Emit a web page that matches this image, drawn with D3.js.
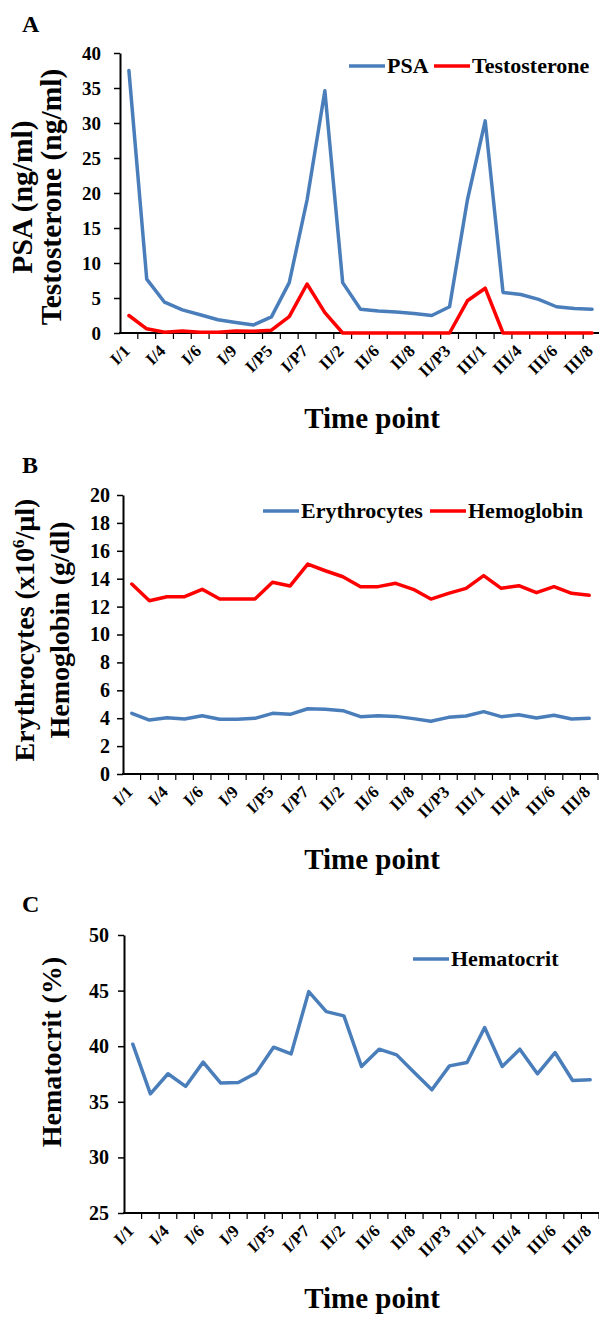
<!DOCTYPE html>
<html><head><meta charset="utf-8">
<script src="https://cdn.jsdelivr.net/npm/d3@7"></script>
<style>
body{margin:0;background:#fff}
svg{display:block}
text{font-family:"Liberation Serif","Times New Roman",serif;font-weight:bold;fill:#000}
</style>
</head><body>
<svg id="chart" width="599" height="1318"></svg>
<script>
// ---- data ----
const categories = ["I/1","I/2","I/4","I/5","I/6","I/7","I/9","I/P1","I/P5","I/P6","I/P7","II/1","II/2","II/4","II/6","II/7","II/8","II/P1","II/P3","II/P5","III/1","III/2","III/4","III/5","III/6","III/7","III/8"];
const shownLabels = ["I/1","I/4","I/6","I/9","I/P5","I/P7","II/2","II/6","II/8","II/P3","III/1","III/4","III/6","III/8"];

const psa          = [37.5,7.7,4.4,3.3,2.6,1.9,1.5,1.15,2.3,7.2,19.0,34.6,7.2,3.4,3.15,3.0,2.8,2.5,3.75,19.0,30.3,5.8,5.5,4.8,3.75,3.5,3.4];
const testosterone = [2.5,0.6,0.1,0.3,0.1,0.1,0.3,0.25,0.4,2.35,7.0,2.9,0,0,0,0,0,0,0,4.6,6.4,0,0,0,0,0,0];

const erythrocytes = [4.35,3.87,4.04,3.94,4.18,3.92,3.92,3.99,4.35,4.28,4.68,4.64,4.54,4.11,4.18,4.13,3.97,3.78,4.06,4.16,4.47,4.11,4.25,4.01,4.21,3.94,3.99];
const hemoglobin   = [13.62,12.42,12.71,12.71,13.24,12.54,12.54,12.54,13.74,13.48,15.05,14.57,14.14,13.43,13.43,13.67,13.24,12.54,12.95,13.31,14.22,13.31,13.5,13.0,13.43,12.95,12.81];

const hematocrit   = [40.18,35.72,37.52,36.38,38.57,36.68,36.74,37.58,39.91,39.31,44.91,43.11,42.73,38.17,39.73,39.22,37.63,36.08,38.23,38.53,41.68,38.17,39.73,37.52,39.43,36.92,36.98];

const ticksA = [0,5,10,15,20,25,30,35,40];
const ticksB = [0,2,4,6,8,10,12,14,16,18,20];
const ticksC = [25,30,35,40,45,50];

const BLUE = "#4a7ebb", RED = "#ff0000";

const svg = d3.select("#chart");

function panel(cfg){
  const g = svg.append("g");
  const x = d3.scaleBand().domain(categories).range(cfg.xRange).padding(0);
  const bw = x.bandwidth();
  const y = d3.scaleLinear().domain(cfg.yDomain).range(cfg.yRange);
  const y0 = cfg.yRange[0];

  // y axis
  const ya = g.append("g").attr("transform",`translate(${cfg.xRange[0]},0)`)
    .call(d3.axisLeft(y).tickValues(cfg.ticks).tickSize(6).tickSizeOuter(0).tickPadding(cfg.tickPad));
  ya.select(".domain").attr("stroke","#000").attr("stroke-width",2);
  ya.selectAll(".tick line").attr("stroke","#000").attr("stroke-width",1.5);
  ya.selectAll(".tick text").style("font-family",'"Liberation Serif","Times New Roman",serif')
    .style("font-weight","bold").style("font-size",cfg.tickFont+"px").attr("fill","#000");

  // x axis
  g.append("line").attr("x1",cfg.xRange[0]-1).attr("x2",cfg.xRange[1]).attr("y1",y0).attr("y2",y0)
    .attr("stroke","#000").attr("stroke-width",2);
  g.selectAll(".xt").data(categories).join("line")
    .attr("x1",d=>x(d)+bw).attr("x2",d=>x(d)+bw).attr("y1",y0).attr("y2",y0+6)
    .attr("stroke","#000").attr("stroke-width",1.2);
  g.selectAll(".xl").data(categories.filter(c=>shownLabels.includes(c))).join("text")
    .attr("transform",d=>`translate(${x(d)+bw/2+2},${y0+19}) rotate(-45)`)
    .attr("text-anchor","end").style("font-size","17px").text(d=>d);

  // series
  const line = d3.line().x((d,i)=>x(categories[i])+bw/2).y(d=>y(d));
  cfg.series.forEach(s=>{
    g.append("path").attr("d",line(s.values)).attr("fill","none").attr("stroke",s.color)
      .attr("stroke-width",3.5).attr("stroke-linejoin","round").attr("stroke-linecap","round");
  });

  // legend
  cfg.series.forEach(s=>{
    g.append("line").attr("x1",s.lx).attr("x2",s.lx+36).attr("y1",cfg.legY).attr("y2",cfg.legY)
      .attr("stroke",s.color).attr("stroke-width",3.5);
    g.append("text").attr("x",s.lx+38).attr("y",cfg.legY+7).style("font-size","22px").text(s.name);
  });

  // y title
  cfg.yTitle.forEach((t,i)=>{
    const tx = g.append("text").attr("transform",`translate(${t.x},${cfg.yTitleCenter}) rotate(-90)`)
      .attr("text-anchor","middle").style("font-size",cfg.titleFont+"px");
    if (t.sup){
      tx.append("tspan").text(t.pre);
      tx.append("tspan").attr("dy",-10).style("font-size","17px").text(t.sup);
      tx.append("tspan").attr("dy",10).text(t.post);
    } else tx.text(t.text);
  });

  // x title
  g.append("text").attr("x",372).attr("y",y0+95).attr("text-anchor","middle").style("font-size","29px").text("Time point");
  // panel letter
  g.append("text").attr("x",22).attr("y",y0-301).style("font-size","24px").text(cfg.letter);
}

panel({
  letter:"A", xRange:[120,601], yRange:[333,53], yDomain:[0,40], ticks:ticksA, tickPad:13, tickFont:19,
  series:[{name:"PSA",values:psa,color:BLUE,lx:349},{name:"Testosterone",values:testosterone,color:RED,lx:434}],
  legY:66, yTitleCenter:197, titleFont:29.5,
  yTitle:[{x:32,text:"PSA (ng/ml)"},{x:61,text:"Testosterone (ng/ml)"}]
});
panel({
  letter:"B", xRange:[123,598], yRange:[774,495], yDomain:[0,20], ticks:ticksB, tickPad:7, tickFont:20,
  series:[{name:"Erythrocytes",values:erythrocytes,color:BLUE,lx:263},{name:"Hemoglobin",values:hemoglobin,color:RED,lx:430}],
  legY:511, yTitleCenter:630, titleFont:28,
  yTitle:[{x:34,sup:true,pre:"Erythrocytes (x10",sup:"6",post:"/µl)"},{x:69,text:"Hemoglobin (g/dl)"}]
});
panel({
  letter:"C", xRange:[124,599], yRange:[1213,935], yDomain:[25,50], ticks:ticksC, tickPad:9, tickFont:20,
  series:[{name:"Hematocrit",values:hematocrit,color:BLUE,lx:413}],
  legY:959, yTitleCenter:1052, titleFont:28,
  yTitle:[{x:61,text:"Hematocrit (%)"}]
});
</script>
</body></html>
